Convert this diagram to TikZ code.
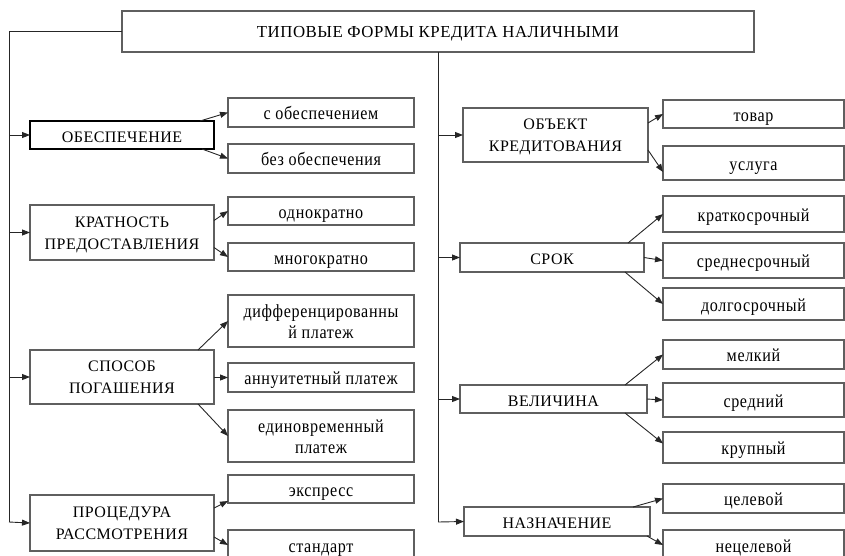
\documentclass[tikz,border=0pt]{standalone}
\usepackage{fontspec}
\usepackage{graphicx}
\setmainfont{Liberation Serif}[LetterSpace=3]
\newfontfamily\leaffont{Liberation Serif}[LetterSpace=4]
\newcommand\lf[1]{\scalebox{0.87}[1]{#1}}
\usetikzlibrary{arrows.meta}
\definecolor{boxline}{RGB}{95,95,95}
\tikzset{
  box/.style={draw=boxline, line width=1.3pt, fill=white, inner sep=0pt, outer sep=0pt, anchor=north west, align=center},
  mainbox2/.style={box, font=\fontsize{16}{22}\selectfont, text height=34pt, text depth=1pt},
  mainbox/.style={box, font=\fontsize{16}{22}\selectfont, text height=15pt, text depth=1pt},
  leaf2/.style={box, font=\leaffont\fontsize{18.5}{21}\selectfont, text height=35pt, text depth=1pt},
  leaf/.style={box, font=\leaffont\fontsize{18.5}{21}\selectfont, text height=15pt, text depth=1pt},
  conn/.style={line width=0.9pt, black!85},
  arr/.style={conn, -{Triangle[length=8pt,width=6pt]}}
}
\begin{document}
\begin{tikzpicture}[x=1pt,y=-1pt]
\useasboundingbox (0,0) rectangle (845,555);
\clip (0,0) rectangle (845,555);
% title
\node[mainbox, font=\fontsize{16.8}{21}\selectfont, text height=13pt, minimum width=632, minimum height=41] (title) at (122,11) {ТИПОВЫЕ ФОРМЫ КРЕДИТА НАЛИЧНЫМИ};
% left main boxes
\node[mainbox, draw=black, line width=1.6pt, minimum width=184, minimum height=28] (ob) at (30,121) {ОБЕСПЕЧЕНИЕ};
\node[mainbox2, minimum width=184, minimum height=55] (kr) at (30,205) {КРАТНОСТЬ\\ПРЕДОСТАВЛЕНИЯ};
\node[mainbox2, minimum width=184, minimum height=54] (sp) at (30,350) {СПОСОБ\\ПОГАШЕНИЯ};
\node[mainbox2, minimum width=184, minimum height=56] (pr) at (30,495) {ПРОЦЕДУРА\\РАССМОТРЕНИЯ};
% left leaves
\node[leaf, minimum width=186, minimum height=29] (c1) at (228,98) {\lf{с обеспечением}};
\node[leaf, minimum width=186, minimum height=29] (c2) at (228,144) {\lf{без обеспечения}};
\node[leaf, minimum width=186, minimum height=28] (k1) at (228,197) {\lf{однократно}};
\node[leaf, minimum width=186, minimum height=28] (k2) at (228,243) {\lf{многократно}};
\node[leaf2, minimum width=186, minimum height=52] (s1) at (228,295) {\lf{дифференцированны}\\\lf{й платеж}};
\node[leaf, minimum width=186, minimum height=29] (s2) at (228,363) {\lf{аннуитетный платеж}};
\node[leaf2, minimum width=186, minimum height=52] (s3) at (228,410) {\lf{единовременный}\\\lf{платеж}};
\node[leaf, minimum width=186, minimum height=28] (p1) at (228,475) {\lf{экспресс}};
\node[leaf, minimum width=186, minimum height=30] (p2) at (228,530) {\lf{стандарт}};
% right main boxes
\node[mainbox2, minimum width=185, minimum height=54] (oc) at (463,108) {ОБЪЕКТ\\КРЕДИТОВАНИЯ};
\node[mainbox, minimum width=184, minimum height=29] (sr) at (460,243) {СРОК};
\node[mainbox, minimum width=187, minimum height=28] (ve) at (460,385) {ВЕЛИЧИНА};
\node[mainbox, minimum width=186, minimum height=29] (nz) at (464,507) {НАЗНАЧЕНИЕ};
% right leaves
\node[leaf, minimum width=181, minimum height=28] (o1) at (663,100) {\lf{товар}};
\node[leaf, minimum width=181, minimum height=34] (o2) at (663,146) {\lf{услуга}};
\node[leaf, minimum width=181, minimum height=36] (t1) at (663,196) {\lf{краткосрочный}};
\node[leaf, minimum width=181, minimum height=35] (t2) at (663,243) {\lf{среднесрочный}};
\node[leaf, minimum width=181, minimum height=32] (t3) at (663,288) {\lf{долгосрочный}};
\node[leaf, minimum width=181, minimum height=29] (v1) at (663,340) {\lf{мелкий}};
\node[leaf, minimum width=181, minimum height=34] (v2) at (663,383) {\lf{средний}};
\node[leaf, minimum width=181, minimum height=31] (v3) at (663,432) {\lf{крупный}};
\node[leaf, minimum width=181, minimum height=29] (n1) at (663,484) {\lf{целевой}};
\node[leaf, minimum width=181, minimum height=30] (n2) at (663,530) {\lf{нецелевой}};
% trunks
\coordinate (lt) at (9,31.5);
\coordinate (lb) at (9,522);
\coordinate (rb) at (438,522);
\draw[conn] (title.west) -- (lt) -- (lb);
\draw[arr] (lb) -- (pr.west);
\draw[arr] (lt |- ob.west) -- (ob.west);
\draw[arr] (lt |- kr.west) -- (kr.west);
\draw[arr] (lt |- sp.west) -- (sp.west);
\draw[conn] (title.south) -- (rb);
\draw[arr] (rb) -- (nz.west);
\draw[arr] (title.south |- oc.west) -- (oc.west);
\draw[arr] (title.south |- sr.west) -- (sr.west);
\draw[arr] (title.south |- ve.west) -- (ve.west);
% left branches
\draw[arr] ([xshift=-14pt]ob.north east) -- (c1.west);
\draw[arr] ([xshift=-12pt]ob.south east) -- (c2.west);
\draw[arr] ([yshift=12pt]kr.east) -- (k1.west);
\draw[arr] ([yshift=-15pt]kr.east) -- (k2.west);
\draw[arr] ([xshift=-16pt]sp.north east) -- (s1.west);
\draw[arr] ([yshift=-0.5pt]sp.east) -- (s2.west);
\draw[arr] ([xshift=-16pt]sp.south east) -- (s3.west);
\draw[arr] ([yshift=15pt]pr.east) -- ([yshift=-12pt]p1.west);
\draw[arr] ([yshift=-14pt]pr.east) -- ([yshift=-0pt]p2.west);
% right branches
\draw[arr] ([yshift=12pt]oc.east) -- (o1.west);
\draw[arr] ([yshift=-15pt]oc.east) -- ([yshift=-9pt]o2.west);
\draw[arr] ([xshift=-16pt]sr.north east) -- (t1.west);
\draw[arr] (sr.east) -- (t2.west);
\draw[arr] ([xshift=-19pt]sr.south east) -- (t3.west);
\draw[arr] ([xshift=-22pt]ve.north east) -- (v1.west);
\draw[arr] (ve.east) -- (v2.west);
\draw[arr] ([xshift=-22pt]ve.south east) -- ([yshift=4pt]v3.west);
\draw[arr] ([xshift=-17pt]nz.north east) -- (n1.west);
\draw[arr] ([xshift=-3pt]nz.south east) -- (n2.west);
\end{tikzpicture}
\end{document}
